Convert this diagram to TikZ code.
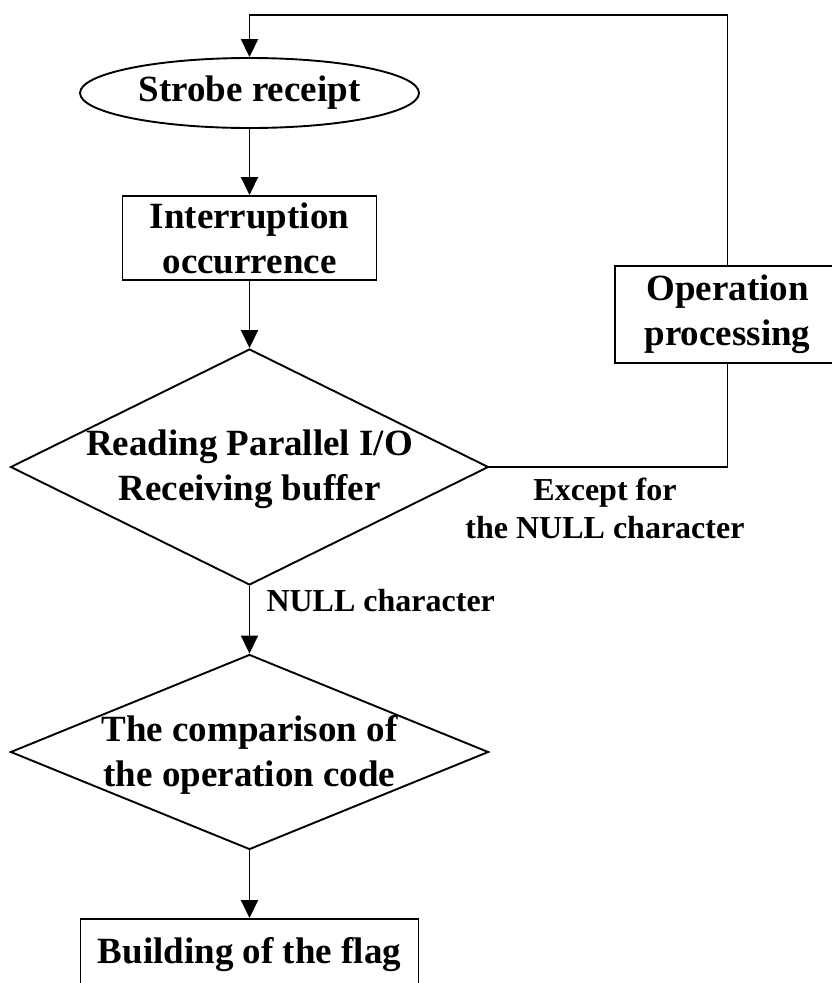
\documentclass[tikz,border=0pt]{standalone}
\usepackage{fontspec}
\setmainfont{Liberation Serif}
\usetikzlibrary{shapes.geometric,arrows.meta}
\begin{document}
\begin{tikzpicture}[x=1pt,y=-1pt,
  every node/.style={font=\bfseries\fontsize{37}{45}\selectfont, align=center},
  boxnode/.style={draw, line width=1.9pt, rectangle, inner sep=0pt},
  decision/.style={draw, line width=1.9pt, diamond, inner sep=0pt},
  startnode/.style={draw, line width=1.9pt, ellipse, inner sep=0pt},
  flow/.style={line width=1.9pt, -{Triangle[length=18pt,width=17pt]}},
  plainline/.style={line width=1.9pt},
  edgelabel/.style={font=\bfseries\fontsize{32}{38}\selectfont}]
\useasboundingbox (0,0) rectangle (832,983);
\clip (0,0) rectangle (832,983);

% main column
\node[startnode, minimum width=339pt, minimum height=70pt] (ell) at (249.5,93) {Strobe receipt};
\node[boxnode, minimum width=254pt, minimum height=84pt] (intr) at (249.5,238) {Interruption\\occurrence};
\node[decision, minimum width=478pt, minimum height=236pt] (d1) at (249.5,467) {};
\node (d1t) at (249.5,469) {Reading Parallel I/O\\Receiving buffer};
\node[decision, minimum width=478pt, minimum height=195pt] (d2) at (249.5,752) {};
\node (d2t) at (249.5,755) {The comparison of\\the operation code};
\node[boxnode, minimum width=338pt, minimum height=84pt] (flag) at (249.5,961) {};
\node (flagt) at (249.5,955) {Building of the flag};

% side branch
\node[boxnode, minimum width=225pt, minimum height=97pt] (op) at (727.5,314.5) {Operation\\processing};
\coordinate (top) at (249.5,15);

% labels on the branches
\node[edgelabel] (lexc) at (605,508) {Except for\\the NULL character};
\node[edgelabel, anchor=west] (lnull) at (263,601) {NULL character};

% connectors
\draw[flow] (ell.south) -- (intr.north);
\draw[flow] (intr.south) -- (d1.north);
\draw[flow] (d1.south) -- (d2.north);
\draw[flow] (d2.south) -- (flag.north);
\draw[plainline] (d1.east) -| (op.south);
\draw[flow] (op.north) |- (top) -- (ell.north);
\end{tikzpicture}
\end{document}
